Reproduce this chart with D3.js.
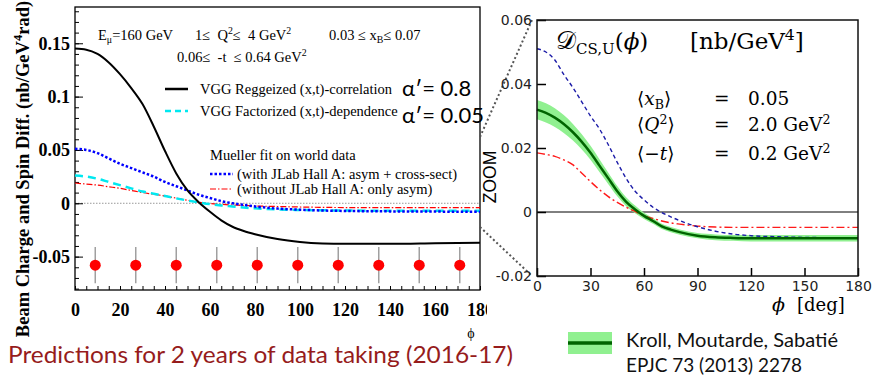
<!DOCTYPE html>
<html>
<head>
<meta charset="utf-8">
<script src="https://cdn.jsdelivr.net/npm/d3@7"></script>
<style>
  body { margin: 0; background: #fff; }
  svg { display: block; }
  text { white-space: pre; }
</style>
</head>
<body>
<svg id="chart" width="873" height="375"></svg>
<script>
// ---- data ----
const phiGrid = [0,5,10,15,20,25,30,35,40,45,50,55,60,65,70,75,80,90,100,110,120,140,160,180];

// left panel (COMPASS projection)
const vggReggeized = [0.145,0.144,0.140,0.132,0.121,0.108,0.093,0.072,0.049,0.028,0.012,0.001,-0.008,-0.016,-0.022,-0.026,-0.029,-0.0335,-0.0362,-0.0376,-0.038,-0.038,-0.0375,-0.037];
const vggFactorized = [0.026,0.025,0.023,0.020,0.017,0.014,0.011,0.009,0.0068,0.0046,0.0026,0.0008,-0.0008,-0.002,-0.003,-0.004,-0.0047,-0.0058,-0.0063,-0.0066,-0.0068,-0.007,-0.007,-0.007];
const muellerWith = [0.051,0.050,0.047,0.042,0.037,0.033,0.029,0.025,0.020,0.016,0.012,0.008,0.005,0.002,0.000,-0.0015,-0.003,-0.005,-0.006,-0.0068,-0.0072,-0.0076,-0.0078,-0.008];
const muellerWithout = [0.019,0.018,0.017,0.0155,0.014,0.012,0.010,0.0085,0.0068,0.0048,0.0028,0.001,-0.0003,-0.001,-0.0016,-0.002,-0.0025,-0.003,-0.0035,-0.0038,-0.004,-0.004,-0.004,-0.004];
const binPhi = [9,27,45,63,81,99,117,135,153,171];
const binValue = [-0.058,-0.058,-0.058,-0.058,-0.058,-0.058,-0.058,-0.058,-0.058,-0.058];
const binErr = [0.017,0.017,0.017,0.017,0.017,0.017,0.017,0.017,0.017,0.017];

// right panel (zoom, KMS)
const kmsValue = [0.032,0.031,0.0295,0.0275,0.025,0.022,0.0185,0.0145,0.0105,0.0065,0.0032,0.0008,-0.0012,-0.0028,-0.0045,-0.0055,-0.0063,-0.0074,-0.0079,-0.0081,-0.0082,-0.0082,-0.0082,-0.0082];
const kmsErr = [0.003,0.003,0.0029,0.0028,0.0026,0.0024,0.0022,0.002,0.0018,0.0016,0.0014,0.0012,0.001,0.0009,0.0008,0.0008,0.0008,0.0008,0.0009,0.0009,0.001,0.001,0.001,0.001];
const zoomBlue = [0.051,0.050,0.0475,0.043,0.039,0.0345,0.030,0.026,0.021,0.0155,0.0105,0.0065,0.0038,0.0015,-0.0002,-0.0015,-0.0027,-0.0046,-0.006,-0.0069,-0.0074,-0.0078,-0.008,-0.008];
const zoomRed = [0.0185,0.018,0.0174,0.0163,0.0148,0.0122,0.0095,0.007,0.0048,0.003,0.0015,0.0002,-0.0012,-0.002,-0.0028,-0.0034,-0.0038,-0.0044,-0.0047,-0.0048,-0.0048,-0.0048,-0.0048,-0.0048];

const leftXTicks = [0,20,40,60,80,100,120,140,160,180];
const leftYTicks = [-0.05,0,0.05,0.1,0.15];
const rightXTicks = [0,30,60,90,120,150,180];
const rightYTicks = [-0.02,0,0.02,0.04,0.06];

const svg = d3.select('#chart');
svg.append('rect').attr('width', 873).attr('height', 375).attr('fill', '#fff');

const serif = 'Liberation Serif, Times New Roman, serif';
const cm = 'DejaVu Serif, serif';
const sans = 'Lato, Noto Sans, sans-serif';

// text with sub/superscripts; parts are strings or [string, 'sub'|'sup'|'it']
function rich(sel, parts, fs) {
    let off = 0;
    parts.forEach(p => {
        const [str, kind] = typeof p === 'string' ? [p, 'n'] : p;
        const target = kind === 'sup' ? -0.4 * fs : kind === 'sub' ? 0.2 * fs : 0;
        const t = sel.append('tspan').attr('dy', target - off).text(str);
        if (kind === 'sup' || kind === 'sub') t.attr('font-size', fs * 0.68);
        if (kind === 'it') t.attr('font-style', 'italic');
        off = target;
    });
    return sel;
}

// ================= left panel =================
const xL = d3.scaleLinear().domain([0, 180]).range([75, 480]);
const yL = d3.scaleLinear().domain([-0.0813, 0.184]).range([290, 7]);

const left = svg.append('g');
svg.append('clipPath').attr('id', 'clipL').append('rect').attr('x', 0).attr('y', 0).attr('width', 487).attr('height', 375);

left.append('line').attr('x1', xL(0)).attr('x2', xL(180)).attr('y1', yL(0)).attr('y2', yL(0))
    .attr('stroke', '#999').attr('stroke-width', 1).attr('stroke-dasharray', '1.5,1.5');

// minor ticks
left.append('g').attr('transform', `translate(0,${yL.range()[0]})`)
    .call(d3.axisBottom(xL).tickValues(d3.range(0, 181, 5)).tickSize(-4).tickFormat(''))
    .call(g => g.select('.domain').remove());
left.append('g').attr('transform', `translate(${xL.range()[0]},0)`)
    .call(d3.axisLeft(yL).tickValues(d3.range(-8, 19).map(d => d / 100)).tickSize(-4).tickFormat(''))
    .call(g => g.select('.domain').remove());

// major ticks + labels
const gxL = left.append('g').attr('clip-path', 'url(#clipL)').attr('transform', `translate(0,${yL.range()[0]})`)
    .call(d3.axisBottom(xL).tickValues(leftXTicks).tickSizeInner(-8).tickSizeOuter(0).tickPadding(13).tickFormat(d3.format('d')));
const gyL = left.append('g').attr('transform', `translate(${xL.range()[0]},0)`)
    .call(d3.axisLeft(yL).tickValues(leftYTicks).tickSizeInner(-8).tickSizeOuter(0).tickPadding(5).tickFormat(d => d === 0 ? '0' : String(d)));
[gxL, gyL].forEach(g => {
    g.select('.domain').remove();
    g.selectAll('text').attr('font-family', serif).attr('font-weight', 'bold').attr('font-size', 18).attr('fill', '#000');
    g.selectAll('line').attr('stroke', '#000');
});

left.append('rect').attr('x', xL(0)).attr('y', yL(0.184)).attr('width', xL(180) - xL(0)).attr('height', yL(-0.0813) - yL(0.184))
    .attr('fill', 'none').attr('stroke', '#000').attr('stroke-width', 1.3);

const lineL = vals => d3.line().x((d, i) => xL(phiGrid[i])).y(d => yL(d)).curve(d3.curveMonotoneX)(vals);

left.append('path').attr('d', lineL(muellerWithout)).attr('fill', 'none').attr('stroke', '#ff0000').attr('stroke-width', 1.2).attr('stroke-dasharray', '6,2,1.5,2');
left.append('path').attr('d', lineL(vggFactorized)).attr('fill', 'none').attr('stroke', '#00e8f0').attr('stroke-width', 2.5).attr('stroke-dasharray', '8,5');
left.append('path').attr('d', lineL(muellerWith)).attr('fill', 'none').attr('stroke', '#0000ff').attr('stroke-width', 2.5).attr('stroke-dasharray', '2.5,2');
left.append('path').attr('d', lineL(vggReggeized)).attr('fill', 'none').attr('stroke', '#000').attr('stroke-width', 2);

// projected points
const pts = left.append('g');
pts.selectAll('line').data(binPhi).join('line')
    .attr('x1', d => xL(d)).attr('x2', d => xL(d))
    .attr('y1', (d, i) => yL(binValue[i] + binErr[i])).attr('y2', (d, i) => yL(binValue[i] - binErr[i]))
    .attr('stroke', '#a0a0a0').attr('stroke-width', 1.5);
pts.selectAll('circle').data(binPhi).join('circle')
    .attr('cx', d => xL(d)).attr('cy', (d, i) => yL(binValue[i])).attr('r', 5.5).attr('fill', '#ff0000');

// kinematics text
const kin = (x, y, parts) => rich(left.append('text').attr('x', x).attr('y', y).attr('font-family', serif).attr('font-size', 14.5), parts, 14.5);
kin(98, 40, ['E', ['μ', 'sub'], '=160 GeV']);
kin(195, 40, ['1≤  Q', ['2', 'sup'], '≤  4 GeV', ['2', 'sup']]);
kin(329, 40, ['0.03 ≤ x', ['B', 'sub'], '≤ 0.07']);
kin(177, 62, ['0.06≤  -t  ≤ 0.64 GeV', ['2', 'sup']]);

// legend
left.append('line').attr('x1', 165).attr('x2', 188).attr('y1', 89).attr('y2', 89).attr('stroke', '#000').attr('stroke-width', 2.5);
left.append('line').attr('x1', 165).attr('x2', 188).attr('y1', 111).attr('y2', 111).attr('stroke', '#00e8f0').attr('stroke-width', 2.5).attr('stroke-dasharray', '6,4');
left.append('line').attr('x1', 210).attr('x2', 233).attr('y1', 174).attr('y2', 174).attr('stroke', '#0000ff').attr('stroke-width', 2.5).attr('stroke-dasharray', '2.5,2');
left.append('line').attr('x1', 210).attr('x2', 233).attr('y1', 189).attr('y2', 189).attr('stroke', '#ff0000').attr('stroke-width', 1.2).attr('stroke-dasharray', '6,2,1.5,2');
kin(200, 94, ['VGG Reggeized (x,t)-correlation']);
kin(200, 116, ['VGG Factorized (x,t)-dependence']);
kin(210, 160, ['Mueller fit on world data']);
kin(237, 179, ['(with JLab Hall A: asym + cross-sect)']);
kin(237, 194, ['(without JLab Hall A: only asym)']);

left.append('text').attr('x', 402).attr('y', 96).attr('font-family', sans).attr('font-size', 22).text('α′= 0.8');
left.append('text').attr('x', 402).attr('y', 123).attr('font-family', sans).attr('font-size', 22).text('α′= 0.05');

// axis titles
rich(left.append('text').attr('transform', 'translate(29,169) rotate(-90)').attr('text-anchor', 'middle')
    .attr('font-family', serif).attr('font-weight', 'bold').attr('font-size', 18.5),
    ['Beam Charge and Spin Diff. (nb/GeV', ['4', 'sup'], 'rad)'], 18.5);
left.append('text').attr('x', 471).attr('y', 338).attr('text-anchor', 'middle').attr('font-family', serif).attr('font-size', 14).text('ϕ');

left.append('text').attr('x', 8).attr('y', 363).attr('font-family', sans).attr('font-size', 23)
    .attr('fill', '#961c1c').attr('textLength', 505).attr('lengthAdjust', 'spacingAndGlyphs')
    .text('Predictions for 2 years of data taking (2016-17)');

// ================= zoom connectors =================
const conn = svg.append('g').attr('stroke', '#555').attr('stroke-width', 2).attr('stroke-dasharray', '2,2.5');
conn.append('line').attr('x1', 480).attr('y1', 137).attr('x2', 532).attr('y2', 20);
conn.append('line').attr('x1', 480).attr('y1', 227).attr('x2', 531).attr('y2', 275);
svg.append('text').attr('transform', 'translate(496,177) rotate(-90)').attr('text-anchor', 'middle')
    .attr('font-family', 'Liberation Sans, Arial, sans-serif').attr('font-size', 17.5).text('ZOOM');

// ================= right panel =================
const xR = d3.scaleLinear().domain([0, 180]).range([537, 858]);
const yR = d3.scaleLinear().domain([-0.02, 0.06]).range([276, 20]);
const right = svg.append('g');

right.append('line').attr('x1', xR(0)).attr('x2', xR(180)).attr('y1', yR(0)).attr('y2', yR(0)).attr('stroke', '#000').attr('stroke-width', 1);

const band = d3.area().x((d, i) => xR(phiGrid[i]))
    .y0((d, i) => yR(d - kmsErr[i])).y1((d, i) => yR(d + kmsErr[i])).curve(d3.curveMonotoneX);
right.append('path').attr('d', band(kmsValue)).attr('fill', '#90f090');

const lineR = vals => d3.line().x((d, i) => xR(phiGrid[i])).y(d => yR(d)).curve(d3.curveMonotoneX)(vals);
right.append('path').attr('d', lineR(zoomRed)).attr('fill', 'none').attr('stroke', '#ff1a1a').attr('stroke-width', 1.4).attr('stroke-dasharray', '8,3,2,3');
right.append('path').attr('d', lineR(zoomBlue)).attr('fill', 'none').attr('stroke', '#1c1ca8').attr('stroke-width', 1.4).attr('stroke-dasharray', '4,3');
right.append('path').attr('d', lineR(kmsValue)).attr('fill', 'none').attr('stroke', '#006400').attr('stroke-width', 2.5);

const gxR = right.append('g').attr('transform', `translate(0,${yR.range()[0]})`)
    .call(d3.axisBottom(xR).tickValues(rightXTicks).tickSizeInner(-8).tickSizeOuter(0).tickPadding(5));
const gyR = right.append('g').attr('transform', `translate(${xR.range()[0]},0)`)
    .call(d3.axisLeft(yR).tickValues(rightYTicks).tickSizeInner(-9).tickSizeOuter(0).tickPadding(5).tickFormat(d => d === 0 ? '0' : String(d)));
[gxR, gyR].forEach(g => {
    g.select('.domain').remove();
    g.selectAll('text').attr('font-family', 'DejaVu Sans, sans-serif').attr('font-size', 14).attr('fill', '#222');
    g.selectAll('line').attr('stroke', '#000').attr('stroke-width', 1.5);
});

right.append('rect').attr('x', xR(0)).attr('y', yR(0.06)).attr('width', xR(180) - xR(0)).attr('height', yR(-0.02) - yR(0.06))
    .attr('fill', 'none').attr('stroke', '#111').attr('stroke-width', 1.5);

// title
const title = right.append('text').attr('x', 556).attr('y', 49).attr('font-family', cm).attr('font-size', 23);
title.append('tspan').attr('font-size', 25).text('𝒟');
title.append('tspan').attr('font-size', 15).attr('dy', 5).text('CS,U');
title.append('tspan').attr('dy', -5).text('(');
title.append('tspan').attr('font-style', 'italic').text('ϕ');
title.append('tspan').text(')');
rich(right.append('text').attr('x', 690).attr('y', 49).attr('font-family', cm).attr('font-size', 23),
    ['[nb/GeV', ['4', 'sup'], ']'], 23);

// mean kinematics
const rowY = [105, 131, 160];
const rowLhs = [
    ['⟨', ['x', 'it'], ['B', 'sub'], '⟩'],
    ['⟨', ['Q', 'it'], ['2', 'sup'], '⟩'],
    ['⟨−', ['t', 'it'], '⟩']
];
const rowRhs = [['0.05'], ['2.0 GeV', ['2', 'sup']], ['0.2 GeV', ['2', 'sup']]];
rowY.forEach((y, i) => {
    rich(right.append('text').attr('x', 637).attr('y', y).attr('font-family', cm).attr('font-size', 18.5), rowLhs[i], 18.5);
    right.append('text').attr('x', 714).attr('y', y).attr('font-family', cm).attr('font-size', 18.5).text('=');
    rich(right.append('text').attr('x', 748).attr('y', y).attr('font-family', cm).attr('font-size', 18.5), rowRhs[i], 18.5);
});

right.append('text').attr('x', 772).attr('y', 311).attr('font-family', cm).attr('font-style', 'italic').attr('font-size', 19).text('ϕ');
right.append('text').attr('x', 797).attr('y', 311).attr('font-family', cm).attr('font-size', 18).text('[deg]');

// KMS legend
right.append('rect').attr('x', 568).attr('y', 332).attr('width', 44).attr('height', 22).attr('fill', '#90f090');
right.append('line').attr('x1', 568).attr('x2', 612).attr('y1', 343).attr('y2', 343).attr('stroke', '#006400').attr('stroke-width', 3.5);
right.append('text').attr('x', 626).attr('y', 347).attr('font-family', sans).attr('font-size', 20).attr('fill', '#111')
    .attr('textLength', 212).attr('lengthAdjust', 'spacingAndGlyphs').text('Kroll, Moutarde, Sabatié');
right.append('text').attr('x', 626).attr('y', 372).attr('font-family', sans).attr('font-size', 20).attr('fill', '#111')
    .attr('textLength', 176).attr('lengthAdjust', 'spacingAndGlyphs').text('EPJC 73 (2013) 2278');
</script>
</body>
</html>
